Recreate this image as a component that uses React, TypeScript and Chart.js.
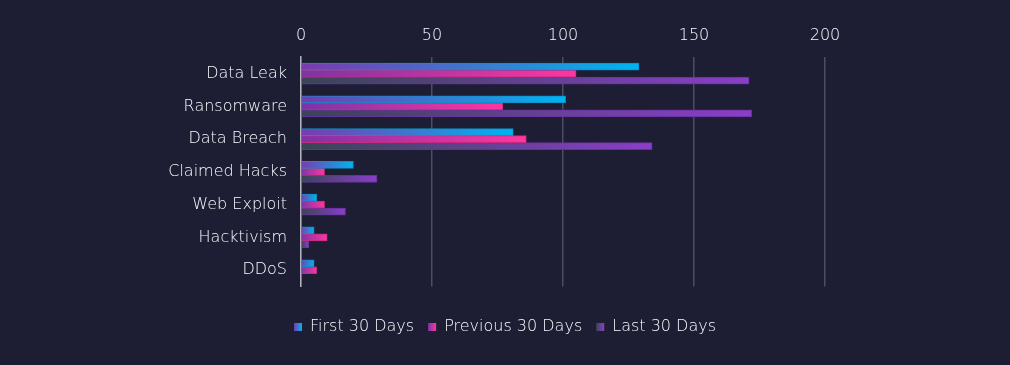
import React, { useEffect, useRef } from "react";
import { Chart, registerables } from "chart.js";

Chart.register(...registerables);

const categories = ["Data Leak", "Ransomware", "Data Breach", "Claimed Hacks", "Web Exploit", "Hacktivism", "DDoS"];
const seriesNames = ["First 30 Days", "Previous 30 Days", "Last 30 Days"];
const firstValues = [129, 101, 81, 20, 6, 5, 5];
const previousValues = [105, 77, 86, 9, 9, 10, 6];
const lastValues = [171, 172, 134, 29, 17, 3, 0];
const xTicks = [0, 50, 100, 150, 200];

const gradStops: [string, string][] = [
  ["#7a3aae", "#00b4f0"],
  ["#7a34a8", "#ff36a0"],
  ["#394556", "#8a3ec8"],
];
const borderCols = ["#0a8fc8", "#c8287e", "#6a2ea0"];
const fallbackCols = ["#3d7fd0", "#c035a0", "#643f90"];

function makeBg(i: number) {
  return (ctx: any) => {
    const chart = ctx.chart;
    const xs = chart.scales && chart.scales.x;
    if (!xs || ctx.type !== "data") return fallbackCols[i];
    const v = ctx.raw as number;
    const x0 = xs.getPixelForValue(0);
    const x1 = xs.getPixelForValue(v);
    if (!isFinite(x0) || !isFinite(x1) || Math.abs(x1 - x0) < 0.5) return gradStops[i][0];
    const g = chart.ctx.createLinearGradient(x0, 0, x1, 0);
    g.addColorStop(0, gradStops[i][0]);
    g.addColorStop(1, gradStops[i][1]);
    return g;
  };
}

const FONT = "'DejaVu Sans', sans-serif";
const TEXT = "#fafafe";

export default function App() {
  const ref = useRef<HTMLCanvasElement | null>(null);
  useEffect(() => {
    document.body.style.margin = "0";
    document.body.style.background = "#1d1e34";
    const canvas = ref.current!;
    const legendBoxes = {
      id: "legendBoxes",
      afterDraw(chart: any) {
        const lg = chart.legend;
        if (!lg || !lg.legendHitBoxes) return;
        const c = chart.ctx;
        lg.legendHitBoxes.forEach((hb: any, i: number) => {
          const bw = 8, bh = 8;
          const cy = hb.top + hb.height / 2;
          c.save();
          c.fillStyle = "#1d1e34";
          c.fillRect(hb.left - 1, cy - bh / 2 - 1, bw + 2, bh + 2);
          const g = c.createLinearGradient(hb.left, 0, hb.left + bw, 0);
          g.addColorStop(0, gradStops[i][0]);
          g.addColorStop(1, gradStops[i][1]);
          c.fillStyle = g;
          c.fillRect(hb.left, cy - bh / 2, bw, bh);
          c.restore();
        });
      },
    };
    const chart = new Chart(canvas, {
      type: "bar",
      data: {
        labels: categories,
        datasets: [firstValues, previousValues, lastValues].map((d, i) => ({
          label: seriesNames[i],
          data: d,
          backgroundColor: makeBg(i),
          borderColor: borderCols[i],
          borderWidth: 1,
          barThickness: 7,
        })),
      },
      options: {
        indexAxis: "y",
        animation: false,
        responsive: false,
        maintainAspectRatio: false,
        layout: { padding: { left: 0, right: 0, top: 14, bottom: 20 } },
        scales: {
          x: {
            position: "top",
            min: 0,
            max: 270.6,
            afterBuildTicks: (s: any) => {
              s.ticks = xTicks.map((v) => ({ value: v }));
            },
            ticks: { color: TEXT, font: { family: FONT, size: 16, weight: "200" }, padding: 12 },
            grid: { color: "#4b4d62", lineWidth: 1.5, drawTicks: false },
            border: { display: false },
          },
          y: {
            afterFit: (s: any) => {
              s.width = 301;
            },
            ticks: { color: TEXT, font: { family: FONT, size: 16, weight: "200" }, padding: 14 },
            grid: { display: false, drawTicks: false },
            border: { display: true, color: "#b4b4bc", width: 1.5 },
          },
        },
        plugins: {
          legend: {
            position: "bottom",
            title: { display: true, text: " ", font: { size: 2 }, padding: 8 },
            labels: {
              color: TEXT,
              font: { family: FONT, size: 16, weight: "200" },
              boxWidth: 8,
              boxHeight: 8,
              padding: 14,
            },
          },
          tooltip: { enabled: false },
        },
      },
      plugins: [legendBoxes],
    } as any);
    return () => chart.destroy();
  }, []);
  return (
    <div style={{ width: 1010, height: 365, background: "#1d1e34" }}>
      <canvas ref={ref} width={1010} height={365} style={{ display: "block" }} />
    </div>
  );
}
